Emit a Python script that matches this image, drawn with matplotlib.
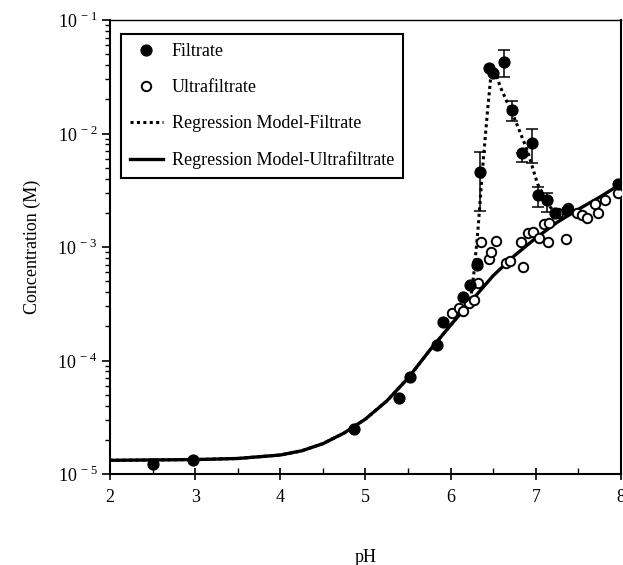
import math
import matplotlib
matplotlib.use("Agg")
import matplotlib.pyplot as plt
from matplotlib.ticker import FixedLocator, LogLocator, NullFormatter, FuncFormatter

plt.rcParams['font.family'] = ['Liberation Serif', 'DejaVu Serif']
plt.rcParams['mathtext.fontset'] = 'custom'
plt.rcParams['mathtext.rm'] = 'Liberation Serif'

# ---------------- data ----------------
ph_filtrate = [2.50, 2.97, 4.86, 5.39, 5.52, 5.84, 5.91, 6.15, 6.23, 6.31, 6.34,
               6.45, 6.50, 6.63, 6.72, 6.84, 6.95, 7.02, 7.13, 7.23, 7.37, 7.97]
conc_filtrate = [1.23e-5, 1.32e-5, 2.5e-5, 4.7e-5, 7.1e-5, 1.38e-4, 2.2e-4, 3.6e-4,
                 4.6e-4, 6.9e-4, 4.6e-3, 0.038, 0.034, 0.043, 0.016, 6.8e-3, 8.2e-3,
                 2.9e-3, 2.6e-3, 2.0e-3, 2.1e-3, 3.6e-3]

ph_err = [6.34, 6.63, 6.72, 6.84, 6.95, 7.02, 7.13]
conc_err = [4.6e-3, 0.043, 0.016, 6.8e-3, 8.2e-3, 2.9e-3, 2.6e-3]
err_low = [2.09e-3, 0.0316, 0.0129, 5.6e-3, 5.5e-3, 2.24e-3, 2.04e-3]
err_high = [6.84e-3, 0.0543, 0.0195, 6.8e-3, 0.011, 3.39e-3, 3.0e-3]

ph_ultra = [6.02, 6.10, 6.15, 6.22, 6.27, 6.31, 6.32, 6.36, 6.45, 6.47, 6.53, 6.65,
            6.70, 6.83, 6.85, 6.91, 6.97, 7.04, 7.10, 7.14, 7.16, 7.26, 7.36, 7.38,
            7.48, 7.54, 7.60, 7.70, 7.73, 7.81, 7.97]
conc_ultra = [2.6e-4, 2.9e-4, 2.75e-4, 3.2e-4, 3.4e-4, 7.2e-4, 4.8e-4, 1.1e-3, 7.8e-4,
              9.1e-4, 1.12e-3, 7.2e-4, 7.5e-4, 1.1e-3, 6.6e-4, 1.32e-3, 1.35e-3, 1.2e-3,
              1.6e-3, 1.1e-3, 1.62e-3, 2.0e-3, 1.17e-3, 2.2e-3, 2.0e-3, 1.9e-3, 1.8e-3,
              2.4e-3, 2.0e-3, 2.6e-3, 2.97e-3]

ph_model_u = [2.0, 3.0, 3.5, 4.0, 4.25, 4.5, 4.75, 5.0, 5.25, 5.5, 5.75, 6.0, 6.25,
              6.5, 6.75, 7.0, 7.25, 7.5, 7.75, 8.0]
conc_model_u = [1.32e-5, 1.34e-5, 1.37e-5, 1.47e-5, 1.6e-5, 1.85e-5, 2.3e-5, 3.05e-5,
                4.4e-5, 7.0e-5, 1.22e-4, 2.05e-4, 3.4e-4, 5.6e-4, 8.4e-4, 1.2e-3,
                1.65e-3, 2.15e-3, 2.75e-3, 3.6e-3]

ph_model_f = [2.0, 3.0, 3.5, 4.0, 4.25, 4.5, 4.75, 5.0, 5.25, 5.5, 5.75, 6.0, 6.23,
              6.27, 6.32, 6.38, 6.43, 6.47, 6.52, 6.58, 6.76, 6.90, 7.02, 7.17, 7.29]
conc_model_f = [1.32e-5, 1.34e-5, 1.37e-5, 1.47e-5, 1.6e-5, 1.85e-5, 2.3e-5, 3.05e-5,
                4.4e-5, 7.0e-5, 1.22e-4, 2.05e-4, 3.3e-4, 5.6e-4, 1.4e-3, 5.5e-3,
                0.015, 0.031, 0.036, 0.026, 0.013, 7.1e-3, 3.6e-3, 2.24e-3, 1.85e-3]

x_ticks = [2, 3, 4, 5, 6, 7, 8]
y_ticks = [1e-5, 1e-4, 1e-3, 1e-2, 1e-1]

# ---------------- figure ----------------
fig = plt.figure(figsize=(6.23, 5.65), dpi=100)
ax = fig.add_axes([110 / 623, 1 - 474 / 565, 511 / 623, 454 / 565])

ax.plot(ph_model_f, conc_model_f, color='black', lw=2.2, linestyle=(0, (1, 1.1)),
        label='Regression Model-Filtrate', zorder=2)
ax.plot(ph_model_u, conc_model_u, color='black', lw=2.4, linestyle='-',
        label='Regression Model-Ultrafiltrate', zorder=3)

ax.errorbar(ph_err, conc_err,
            yerr=[[c - l for c, l in zip(conc_err, err_low)],
                  [h - c for c, h in zip(conc_err, err_high)]],
            fmt='none', ecolor='black', elinewidth=1.1, capsize=4, capthick=1.1, zorder=4)

ax.plot(ph_ultra, conc_ultra, linestyle='none', marker='o', ms=6.8, mfc='white',
        mec='black', mew=1.4, label='Ultrafiltrate', zorder=5)
ax.plot(ph_filtrate, conc_filtrate, linestyle='none', marker='o', ms=7.8, mfc='black',
        mec='black', label='Filtrate', zorder=6)

ax.set_yscale('log')
ax.set_xlim(2, 8)
ax.set_ylim(1e-5, 1e-1)

ax.xaxis.set_major_locator(FixedLocator(x_ticks))
ax.xaxis.set_minor_locator(FixedLocator([v + 0.5 for v in x_ticks[:-1]]))
ax.yaxis.set_major_locator(FixedLocator(y_ticks))
ax.yaxis.set_minor_locator(LogLocator(base=10, subs=range(2, 10), numticks=20))
ax.yaxis.set_minor_formatter(NullFormatter())


def fmt_pow(v, pos):
    e = int(round(math.log10(v)))
    return r'10$^{\,%d}$' % e


ax.yaxis.set_major_formatter(FuncFormatter(fmt_pow))
ax.xaxis.set_major_formatter(FuncFormatter(lambda v, p: '%d' % v))

ax.tick_params(axis='x', which='major', direction='inout', length=8, width=1.2,
               labelsize=13, pad=7)
ax.tick_params(axis='x', which='minor', direction='in', length=4, width=1.0)
ax.tick_params(axis='y', which='major', direction='out', length=6, width=1.2,
               labelsize=13, pad=3)
ax.tick_params(axis='y', which='minor', direction='out', length=3.5, width=1.0)

for s in ax.spines.values():
    s.set_linewidth(1.5)
ax.spines['top'].set_linewidth(1.0)

ax.set_ylabel('Concentration (M)', fontsize=13)
ax.yaxis.set_label_coords(-0.135, 0.5)
ax.set_xlabel('pH', fontsize=13)
ax.xaxis.set_label_coords(0.5, -0.165)
ax.xaxis.label.set_verticalalignment('top')

handles, labels = ax.get_legend_handles_labels()
order = ['Filtrate', 'Ultrafiltrate', 'Regression Model-Filtrate',
         'Regression Model-Ultrafiltrate']
hmap = dict(zip(labels, handles))
leg = ax.legend([hmap[k] for k in order], order, loc='upper left',
                bbox_to_anchor=(0.0215, 0.969), borderaxespad=0, fontsize=13,
                frameon=True, fancybox=False, edgecolor='black', framealpha=1,
                handlelength=1.8, handletextpad=0.5, labelspacing=1.05,
                borderpad=0.5)
leg.get_frame().set_linewidth(1.5)

fig.savefig('out.png', dpi=100)
